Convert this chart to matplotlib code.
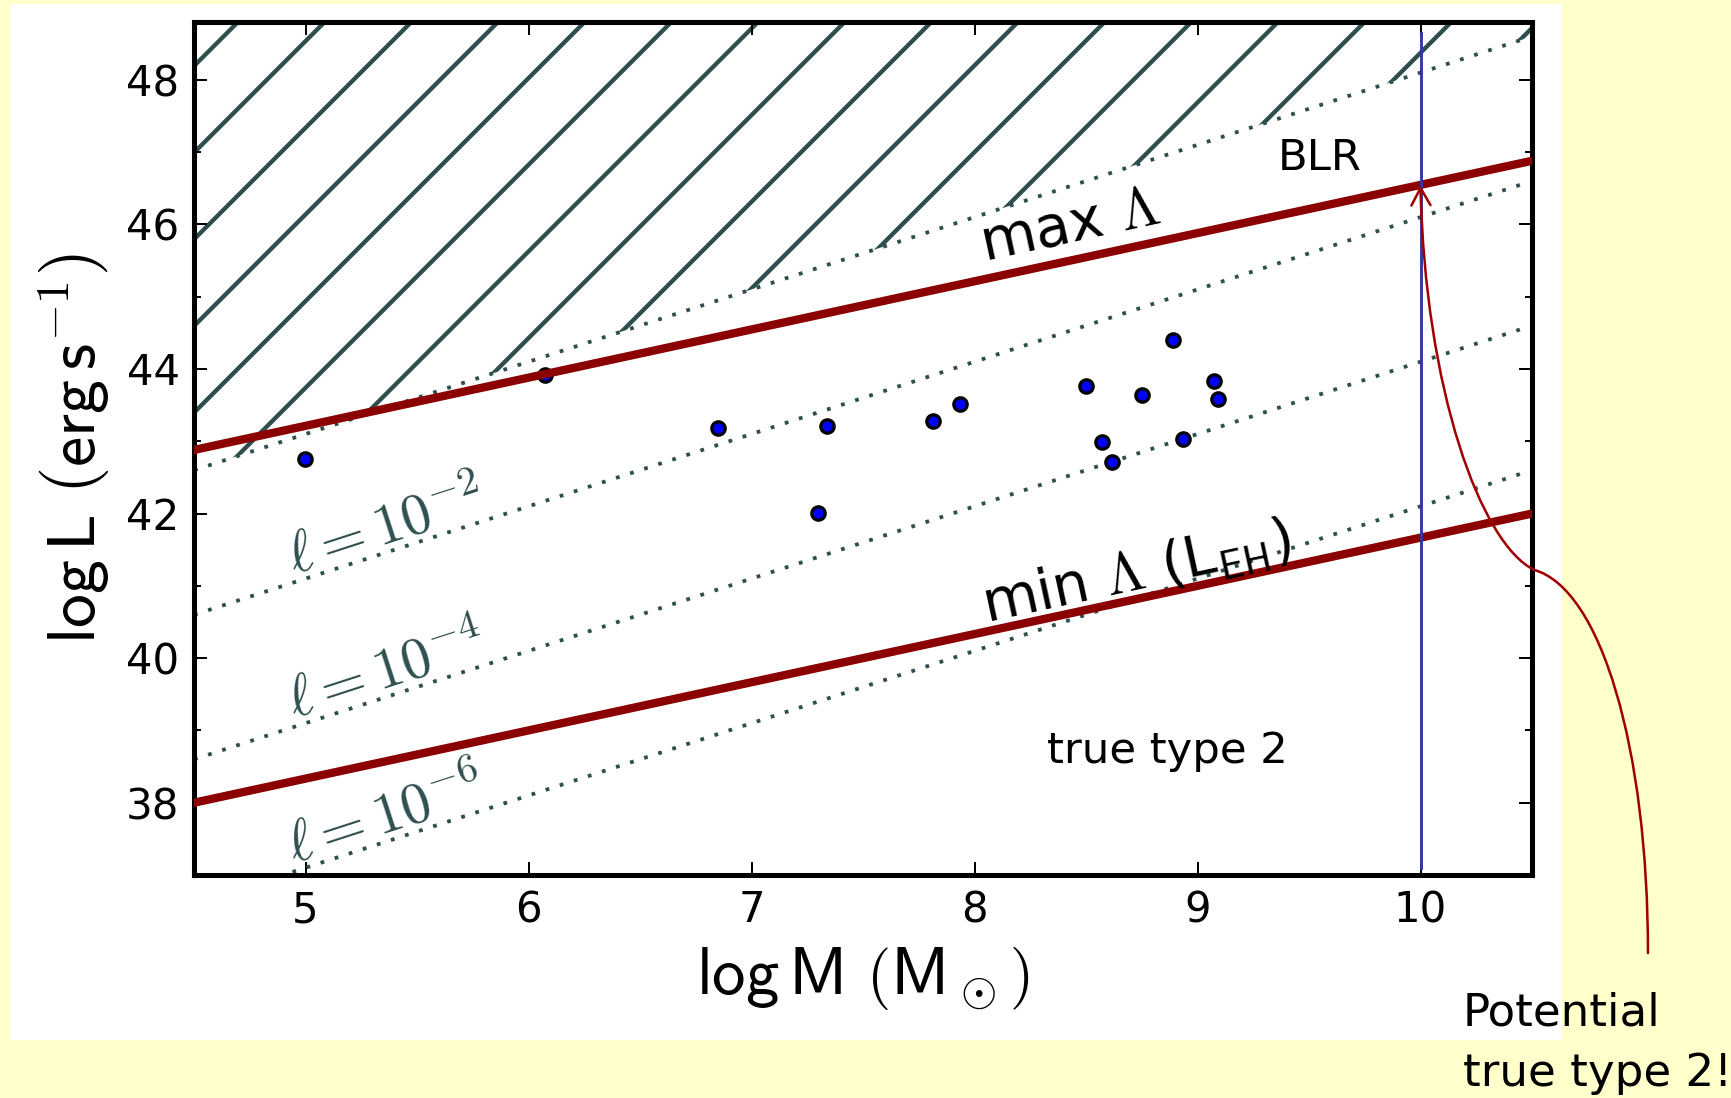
import numpy as np
import matplotlib
matplotlib.use("Agg")
from matplotlib import pyplot as plt
from matplotlib.patches import Rectangle, FancyArrowPatch
from matplotlib.path import Path
from matplotlib.ticker import MultipleLocator

# values
mass_range = [4.5, 10.5]
max_lambda = [42.88, 46.88]
min_lambda = [38.0, 42.0]

# log L of the l = L/L_Edd lines at the two ends of mass_range
ell_exponents = [0, -2, -4, -6]
ell_lines = [[42.6, 48.6], [40.6, 46.6], [38.6, 44.6], [36.6, 42.6]]

log_m = [4.998, 6.076, 6.851, 7.337, 7.297, 7.813, 7.934, 8.50,
         8.573, 8.616, 8.75, 8.888, 8.934, 9.076, 9.092]
log_l = [42.76, 43.91, 43.18, 43.21, 42.01, 43.28, 43.51, 43.76,
         42.99, 42.71, 43.64, 44.40, 43.03, 43.83, 43.58]

x_ticks = [5, 6, 7, 8, 9, 10]
y_ticks = [38, 40, 42, 44, 46, 48]

blr_mass = 10.0
blr_span = [37.1, 48.65]

# curved arrow from the slide note up to the max line at log M = 10
arrow_x = [11.02, 11.02, 10.81, 10.51, 10.27, 10.02, 10.0]
arrow_y = [35.92, 38.74, 40.96, 41.22, 41.58, 43.73, 46.54]

slate = "#2f4f4f"
dark_red = "#8b0000"

# hatch spacing in agg scales with dpi, so the figure is set up at a high dpi
DPI = 260
W, H = 1731, 1098
plt.rcParams["mathtext.fontset"] = "cm"
plt.rcParams["hatch.linewidth"] = 1.2
plt.rcParams["font.family"] = ["DejaVu Sans"]

fig = plt.figure(figsize=(W / DPI, H / DPI), dpi=DPI, facecolor="#ffffcc")
fig.add_artist(Rectangle((10 / W, 58 / H), 1552 / W, 1036 / H, transform=fig.transFigure,
                         facecolor="white", edgecolor="none", zorder=-5))

ax = fig.add_axes([194 / W, 1 - 875 / H, 1338 / W, 853 / H])
ax.set_xlim(4.5, 10.5)
ax.set_ylim(37.0, 48.8)

# forbidden region above eddington
ax.fill_between(mass_range, ell_lines[0], 50, facecolor="none", edgecolor=slate,
                hatch="/", linewidth=0, zorder=1)

for vals in ell_lines:
    ax.plot(mass_range, vals, color=slate, lw=1.05, linestyle=(0, (1, 2.9)), zorder=2)

ax.plot(log_m, log_l, "o", ms=3.7, mfc="blue", mec="black", mew=0.9, zorder=3)

ax.plot(mass_range, max_lambda, color=dark_red, lw=2.3, zorder=4)
ax.plot(mass_range, min_lambda, color=dark_red, lw=2.3, zorder=4)

# labels on the l lines
x_lab = 4.95
for e, vals in zip(ell_exponents[1:], ell_lines[1:]):
    y_lab = np.interp(x_lab, mass_range, vals) + 0.1
    ax.text(x_lab, y_lab, r"$\ell=10^{%d}$" % e, color=slate, fontsize=16.2,
            rotation=45, transform_rotates_text=True, rotation_mode="anchor",
            ha="left", va="baseline", zorder=5)

lam_angle = np.degrees(np.arctan((max_lambda[1] - max_lambda[0]) / (mass_range[1] - mass_range[0])))
ax.text(8.43, 45.97, r"max $\Lambda$", fontsize=15.8, rotation=lam_angle,
        transform_rotates_text=True, rotation_mode="anchor", ha="center", va="center", zorder=5)
ax.text(8.73, 41.18, r"min $\Lambda$ (L$_\mathsf{EH}$)", fontsize=15.8, rotation=lam_angle,
        transform_rotates_text=True, rotation_mode="anchor", ha="center", va="center", zorder=5)

ax.text(9.55, 46.75, "BLR", fontsize=12, ha="center", va="baseline", zorder=5)
ax.text(8.865, 38.55, "true type 2", fontsize=12, ha="center", va="baseline", zorder=5)

# slide overlay: BLR limit and the arrow
ax.plot([blr_mass, blr_mass], blr_span, color="#3535a5", lw=0.8, zorder=6)
codes = [Path.MOVETO] + [Path.CURVE4] * 6
arrow = FancyArrowPatch(path=Path(np.column_stack([arrow_x, arrow_y]), codes),
                        arrowstyle="->,head_length=0.4,head_width=0.22", mutation_scale=12,
                        color="#a00000", lw=0.7, transform=ax.transData, clip_on=False, zorder=7)
ax.add_patch(arrow)

fig.text(1463 / W, 1 - 1025 / H, "Potential", fontsize=12.5, ha="left", va="baseline")
fig.text(1463 / W, 1 - 1086 / H, "true type 2!", fontsize=12.5, ha="left", va="baseline")

ax.set_xticks(x_ticks)
ax.set_yticks(y_ticks)
ax.yaxis.set_minor_locator(MultipleLocator(1))
ax.tick_params(which="both", direction="in", top=True, right=True, width=0.55, labelsize=11.6, pad=4)
ax.tick_params(which="major", length=3.6)
ax.tick_params(which="minor", length=2)
for s in ax.spines.values():
    s.set_linewidth(1.4)

ax.set_xlabel(r"$\mathsf{log\,M}\ \left(\mathsf{M}_\odot\right)$", fontsize=18.5, labelpad=4)
ax.set_ylabel(r"$\mathsf{log\,L}\ \left(\mathsf{erg\,s}^{-1}\right)$", fontsize=18.8, labelpad=4)

fig.savefig("out.png", dpi=DPI, facecolor=fig.get_facecolor())
